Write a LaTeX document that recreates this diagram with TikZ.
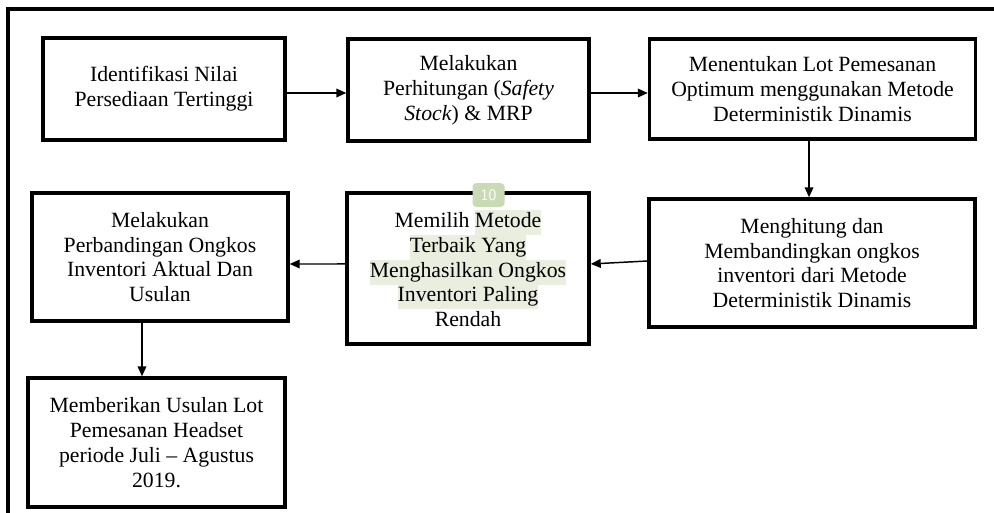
\documentclass[tikz,border=0pt]{standalone}
\usepackage{fontspec}
\setmainfont{Liberation Serif}
\usetikzlibrary{arrows.meta,calc}
\definecolor{hlgreen}{HTML}{E9EEDF}
\definecolor{badgegreen}{HTML}{C9DAB4}
\newcommand\hlx[1]{{\setlength{\fboxsep}{0pt}\colorbox{hlgreen}{\strut #1}}}
\tikzset{
  box/.style={draw, line width=2.6pt, align=center, inner sep=0pt,
    font=\fontsize{16.3pt}{18.6pt}\selectfont},
  arr/.style={line width=1.1pt, -{Triangle[length=7.5pt,width=6.5pt]}},
  frame/.style={line width=2.4pt}
}
\begin{document}
\begin{tikzpicture}[x=0.75pt,y=-0.75pt]
\useasboundingbox (0,0) rectangle (994,512);
\fill[white] (0,0) rectangle (994,512);
\coordinate (fa) at (8,530);
\coordinate (fb) at (8,9);
\coordinate (fc) at (1010,9);
\draw[frame] (fa) -- (fb) -- (fc);

\node[box, minimum width=181.5pt, minimum height=76.5pt] (b1) at (164,89)
  {Identifikasi Nilai\\Persediaan Tertinggi};
\node[box, minimum width=180.75pt, minimum height=76.5pt] (b2) at (468.5,90)
  {Melakukan\\Perhitungan (\textit{Safety}\\\textit{Stock}) \& MRP};
\node[box, minimum width=244.5pt, minimum height=75pt] (b3) at (812.5,89)
  {Menentukan Lot Pemesanan\\Optimum menggunakan Metode\\Deterministik Dinamis};
\node[box, minimum width=244.5pt, minimum height=96pt] (b4) at (812,263)
  {Menghitung dan\\Membandingkan ongkos\\inventori dari Metode\\Deterministik Dinamis};
\node[box, minimum width=181.5pt, minimum height=113.25pt] (b5) at (468,268.5)
  {Memilih \hlx{Metode}\\\hlx{Terbaik Yang}\\\hlx{Menghasilkan Ongkos}\\\hlx{Inventori Paling}\\Rendah};
\node[box, minimum width=192pt, minimum height=96pt] (b6) at (160,257)
  {Melakukan\\Perbandingan Ongkos\\Inventori Aktual Dan\\Usulan};
\node[box, minimum width=192.75pt, minimum height=96.75pt] (b7) at (156.5,442.5)
  {Memberikan Usulan Lot\\Pemesanan Headset\\periode Juli -- Agustus\\2019.};

\node[fill=badgegreen, rounded corners=3pt, text=white, inner sep=1pt,
  minimum width=24pt, minimum height=18pt, font=\sffamily\fontsize{12pt}{13pt}\selectfont]
  (badge) at (488.5,195) {10};

\draw[arr] ([yshift=-3pt]b1.east) -- ([yshift=-3pt]b1.east -| b2.west);
\draw[arr] ([yshift=-2.25pt]b2.east) -- ([yshift=-2.25pt]b2.east -| b3.west);
\draw[arr] ([xshift=-2.6pt]b3.south) -- ([xshift=-2.6pt]b3.south |- b4.north);
\draw[arr] ([yshift=1.5pt]b4.west) -- ([yshift=3.4pt]b5.east);
\draw[arr] ([yshift=3.4pt]b5.west) -- ([yshift=-5.25pt]b6.east);
\draw[arr] ([xshift=-13.5pt]b6.south) -- ([xshift=-13.5pt]b6.south |- b7.north);
\end{tikzpicture}
\end{document}
